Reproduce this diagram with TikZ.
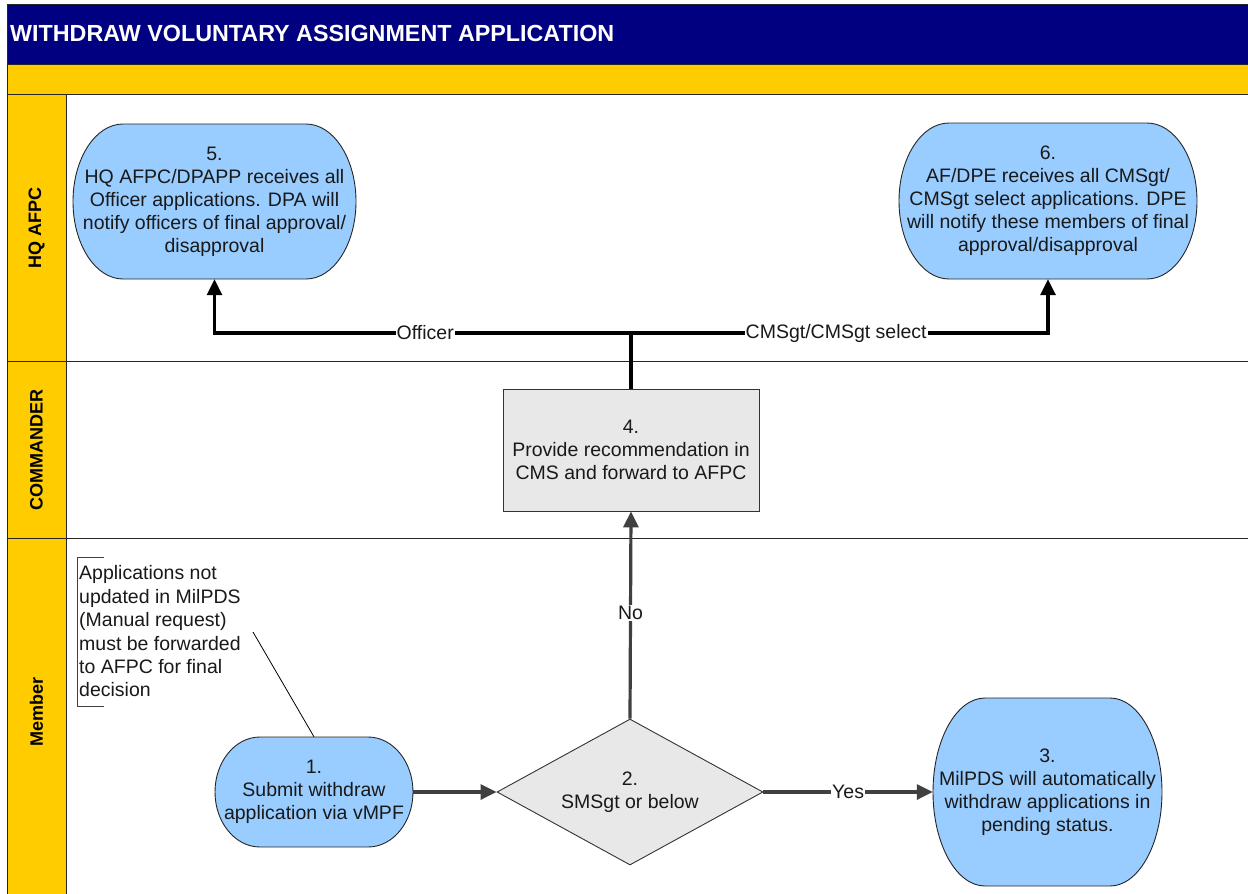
\documentclass[tikz,border=0pt]{standalone}
\usepackage{fontspec}
\setmainfont{Liberation Sans}
\usetikzlibrary{shapes.geometric,arrows.meta}
\definecolor{navy}{HTML}{000080}
\definecolor{lanegold}{HTML}{FFCC00}
\definecolor{sky}{HTML}{99CCFF}
\definecolor{boxgray}{HTML}{E8E8E8}
\definecolor{darkline}{HTML}{404040}
\tikzset{
 stadfill/.style={fill=sky, draw=black!85, line width=0.9pt},
 ntext/.style={font=\fontsize{19.5}{23}\selectfont, align=center, inner sep=0pt, text=black!90},
 procbox/.style={ntext, rectangle, fill=boxgray, draw=black!80, line width=0.9pt, minimum width=256pt, minimum height=122pt},
 decision/.style={ntext, diamond, aspect=1.82, fill=boxgray, draw=black!80, line width=0.9pt, minimum width=266pt, minimum height=146pt},
 flowarrow/.style={draw=darkline, line width=3.2pt, -{Triangle[length=16pt,width=15pt]}},
 toparrow/.style={draw=black, line width=3.2pt, -{Triangle[length=16pt,width=15pt]}},
 topline/.style={draw=black, line width=3.2pt},
 elabel/.style={fill=white, font=\fontsize{19.5}{23}\selectfont, inner sep=1pt, text=black!90},
 lanelabel/.style={rotate=90, font=\bfseries\fontsize{18}{22}\selectfont, inner sep=0pt},
 laneline/.style={draw=black!85, line width=1pt},
 annot/.style={font=\fontsize{19.5}{23.4}\selectfont, align=left, inner sep=0pt, text=black!90},
}
% stadium: name, cx, cy (pixels, y down), w, h, rx, text
\newcommand\stadiumnode[7]{%
 \path[stadfill] ({#2-#4/2+#6},{-#3+#5/2}) -- ({#2+#4/2-#6},{-#3+#5/2})
   arc[start angle=90, end angle=-90, x radius=#6pt, y radius=0.5*#5pt]
   -- ({#2-#4/2+#6},{-#3-#5/2})
   arc[start angle=270, end angle=90, x radius=#6pt, y radius=0.5*#5pt] -- cycle;
 \node[ntext, minimum width=#4pt, minimum height=#5pt] (#1) at (#2,-#3) {#7};
}
\begin{document}
\begin{tikzpicture}[x=1pt,y=1pt]
\useasboundingbox (0,0) rectangle (1248,-894);
\fill[white] (0,0) rectangle (1248,-894);
% header
\fill[navy] (7,-4) rectangle (1248,-64);
\fill[lanegold] (7,-64) rectangle (1248,-94);
\fill[lanegold] (7,-94) rectangle (66,-894);
\draw[laneline] (1248,-4) -- (7,-4) -- (7,-894);
\draw[laneline] (7,-64) -- (1248,-64);
\draw[laneline] (7,-94) -- (1248,-94);
\draw[laneline] (7,-361) -- (1248,-361);
\draw[laneline] (7,-538) -- (1248,-538);
\draw[laneline] (66,-94) -- (66,-894);
\node[anchor=west, text=white, font=\bfseries\fontsize{23.3}{27}\selectfont, inner sep=0pt] (title) at (10,-33) {WITHDRAW VOLUNTARY ASSIGNMENT APPLICATION};
% lane labels
\node[lanelabel] (lhq) at (36.5,-228) {HQ AFPC};
\node[lanelabel] (lcmd) at (36.5,-450) {COMMANDER};
\node[lanelabel] (lmem) at (36.5,-712) {Member};
% nodes
\stadiumnode{n5}{214.5}{201.5}{283}{155}{50}{5.\\HQ AFPC/DPAPP receives all\\Officer applications. DPA will\\notify officers of final approval/\\disapproval}
\stadiumnode{n6}{1048}{201}{298}{156}{50}{6.\\AF/DPE receives all CMSgt/\\CMSgt select applications. DPE\\will notify these members of final\\approval/disapproval}
\stadiumnode{n1}{314}{792}{198}{110}{45}{1.\\Submit withdraw\\application via vMPF}
\stadiumnode{n3}{1047.5}{792}{229}{188}{52}{3.\\MilPDS will automatically\\withdraw applications in\\pending status.}
\node[procbox] (n4) at (631,-450) {4.\\Provide recommendation in\\CMS and forward to AFPC};
\node[decision] (n2) at (630,-792) {2.\\SMSgt or below};
% annotation
\node[annot, anchor=west] (note) at (79,-631.5) {Applications not\\updated in MilPDS\\(Manual request)\\must be forwarded\\to AFPC for final\\decision};
\draw[draw=darkline, line width=0.8pt] (104,-557) -- (77,-557) -- (77,-706) -- (104,-706);
\coordinate (notept) at (253,-632);
\draw[black, line width=0.8pt] (notept) -- (n1.north);
% connectors
\draw[flowarrow] (n1.east) -- (n2.west);
\draw[flowarrow] (n2.east) -- node[elabel] {Yes} (n3.west);
\draw[flowarrow] (n2.north) -- node[elabel, pos=0.51] {No} (n4.south);
\coordinate (junc) at (631,-333);
\draw[topline] (n4.north) -- (junc);
\draw[toparrow] (junc) -| node[elabel, pos=0.247] {Officer} (n5.south);
\draw[toparrow] (junc) -| node[elabel, pos=0.246] {CMSgt/CMSgt select} (n6.south);
\end{tikzpicture}
\end{document}
